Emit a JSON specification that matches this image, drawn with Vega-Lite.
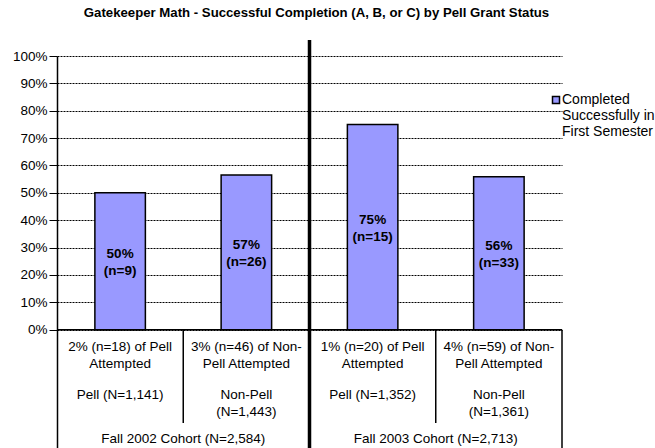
{
  "$schema": "https://vega.github.io/schema/vega-lite/v6.json",
  "width": 505,
  "height": 392,
  "autosize": {"type": "none"},
  "padding": {"left": 57, "top": 56, "right": 93, "bottom": 0},
  "background": "white",
  "config": {
    "font": "Liberation Sans",
    "view": {"stroke": null},
    "legend": {"labelFont": "Liberation Sans", "labelFontSize": 14, "labelColor": "black"},
    "style": {"guide-label": {"dy": -7}}
  },
  "title": {
    "text": "Gatekeeper Math - Successful Completion (A, B, or C) by Pell Grant Status",
    "font": "Liberation Sans",
    "fontSize": 13.2,
    "fontWeight": "bold",
    "color": "black",
    "anchor": "middle",
    "frame": "group",
    "offset": 18,
    "dx": 7
  },
  "datasets": {
    "groups": [
      {"group": "Fall 2002 Pell", "series": "Completed Successfully in First Semester", "pct": 50, "label": "50%\n(n=9)", "attempted": "2% (n=18) of Pell\nAttempted", "status": "Pell (N=1,141)"},
      {"group": "Fall 2002 Non-Pell", "series": "Completed Successfully in First Semester", "pct": 56.5, "label": "57%\n(n=26)", "attempted": "3% (n=46) of Non-\nPell Attempted", "status": "Non-Pell\n(N=1,443)"},
      {"group": "Fall 2003 Pell", "series": "Completed Successfully in First Semester", "pct": 75, "label": "75%\n(n=15)", "attempted": "1% (n=20) of Pell\nAttempted", "status": "Pell (N=1,352)"},
      {"group": "Fall 2003 Non-Pell", "series": "Completed Successfully in First Semester", "pct": 55.9, "label": "56%\n(n=33)", "attempted": "4% (n=59) of Non-\nPell Attempted", "status": "Non-Pell\n(N=1,361)"}
    ],
    "cohorts": [
      {"group": "Fall 2002 Non-Pell", "cohort": "Fall 2002 Cohort (N=2,584)"},
      {"group": "Fall 2003 Non-Pell", "cohort": "Fall 2003 Cohort (N=2,713)"}
    ]
  },
  "resolve": {"scale": {"y": "independent"}},
  "layer": [
    {
      "layer": [
        {
          "data": {"name": "groups"},
          "mark": {"type": "bar", "width": {"band": 0.4}, "stroke": "black", "strokeWidth": 1.5},
          "encoding": {
            "x": {"field": "group", "type": "nominal", "axis": null,
                  "scale": {"domain": ["Fall 2002 Pell", "Fall 2002 Non-Pell", "Fall 2003 Pell", "Fall 2003 Non-Pell"], "paddingInner": 0, "paddingOuter": 0}},
            "y": {"field": "pct", "type": "quantitative",
                  "scale": {"domain": [-43.2, 100], "nice": false, "zero": false},
                  "axis": {"values": [0, 10, 20, 30, 40, 50, 60, 70, 80, 90, 100], "tickCount": 20, "labelExpr": "datum.value + '%'", "title": null,
                           "labelFont": "Liberation Sans", "labelFontSize": 13.5, "labelColor": "black", "labelPadding": 2,
                           "labelOffset": 7,
                           "tickSize": 8, "tickColor": "black", "tickWidth": 1,
                           "domainColor": "black", "domainWidth": 1.5,
                           "grid": true, "gridColor": "black", "gridDash": [2, 1], "gridWidth": 1, "gridOpacity": 1}},
            "color": {"field": "series", "type": "nominal", "scale": {"range": ["#9999FF"]},
                      "legend": {"title": null, "orient": "none", "legendX": 492, "legendY": 37, "padding": 0,
                                 "symbolType": "square", "symbolSize": 49, "symbolStrokeColor": "black", "symbolStrokeWidth": 1.5,
                                 "symbolFillColor": "#9999FF", "labelOffset": -1, "labelBaseline": "top",
                                 "labelExpr": "['Completed', 'Successfully in', 'First Semester']"}}
          }
        },
        {
          "data": {"name": "groups"},
          "mark": {"type": "text", "font": "Liberation Sans", "fontSize": 13.5, "color": "black",
                   "lineBreak": "\n", "lineHeight": 17, "baseline": "top", "align": "center"},
          "encoding": {
            "x": {"field": "group", "type": "nominal"},
            "y": {"datum": -3.8, "type": "quantitative"},
            "text": {"field": "attempted"}
          }
        },
        {
          "data": {"name": "groups"},
          "mark": {"type": "text", "font": "Liberation Sans", "fontSize": 13.5, "color": "black",
                   "lineBreak": "\n", "lineHeight": 17, "baseline": "top", "align": "center"},
          "encoding": {
            "x": {"field": "group", "type": "nominal"},
            "y": {"datum": -21.3, "type": "quantitative"},
            "text": {"field": "status"}
          }
        },
        {
          "data": {"name": "cohorts"},
          "mark": {"type": "text", "font": "Liberation Sans", "fontSize": 13.5, "color": "black",
                   "baseline": "top", "align": "center"},
          "encoding": {
            "x": {"field": "group", "type": "nominal", "bandPosition": 0},
            "y": {"datum": -37.4, "type": "quantitative"},
            "text": {"field": "cohort"}
          }
        },
        {
          "data": {"name": "cohorts"},
          "mark": {"type": "rule", "color": "black", "strokeWidth": 1.5},
          "encoding": {
            "x": {"field": "group", "type": "nominal", "bandPosition": 0},
            "y": {"datum": 0, "type": "quantitative"},
            "y2": {"datum": -34.1}
          }
        },
        {
          "data": {"values": [{"group": "Fall 2003 Non-Pell"}]},
          "mark": {"type": "rule", "color": "black", "strokeWidth": 1.5},
          "encoding": {
            "x": {"field": "group", "type": "nominal", "bandPosition": 1},
            "y": {"datum": 0, "type": "quantitative"},
            "y2": {"datum": -43.2}
          }
        },
        {
          "data": {"values": [{"group": "Fall 2003 Pell"}]},
          "mark": {"type": "rule", "color": "black", "strokeWidth": 3.5},
          "encoding": {
            "x": {"field": "group", "type": "nominal", "bandPosition": 0},
            "y": {"datum": 105.8, "type": "quantitative"},
            "y2": {"datum": -43.2}
          }
        },
        {
          "data": {"values": [{"baseline": 0}]},
          "mark": {"type": "rule", "color": "black", "strokeWidth": 1.5},
          "encoding": {
            "y": {"field": "baseline", "type": "quantitative"}
          }
        }
      ]
    },
    {
      "data": {"name": "groups"},
      "mark": {"type": "text", "font": "Liberation Sans", "fontSize": 13.5, "fontWeight": "bold", "color": "black",
               "lineBreak": "\n", "lineHeight": 17, "baseline": "middle", "align": "center", "dy": -7},
      "encoding": {
        "x": {"field": "group", "type": "nominal"},
        "y": {"field": "pct", "type": "quantitative", "axis": null,
              "scale": {"domain": [-86.4, 200], "nice": false, "zero": false}},
        "text": {"field": "label"}
      }
    }
  ]
}
